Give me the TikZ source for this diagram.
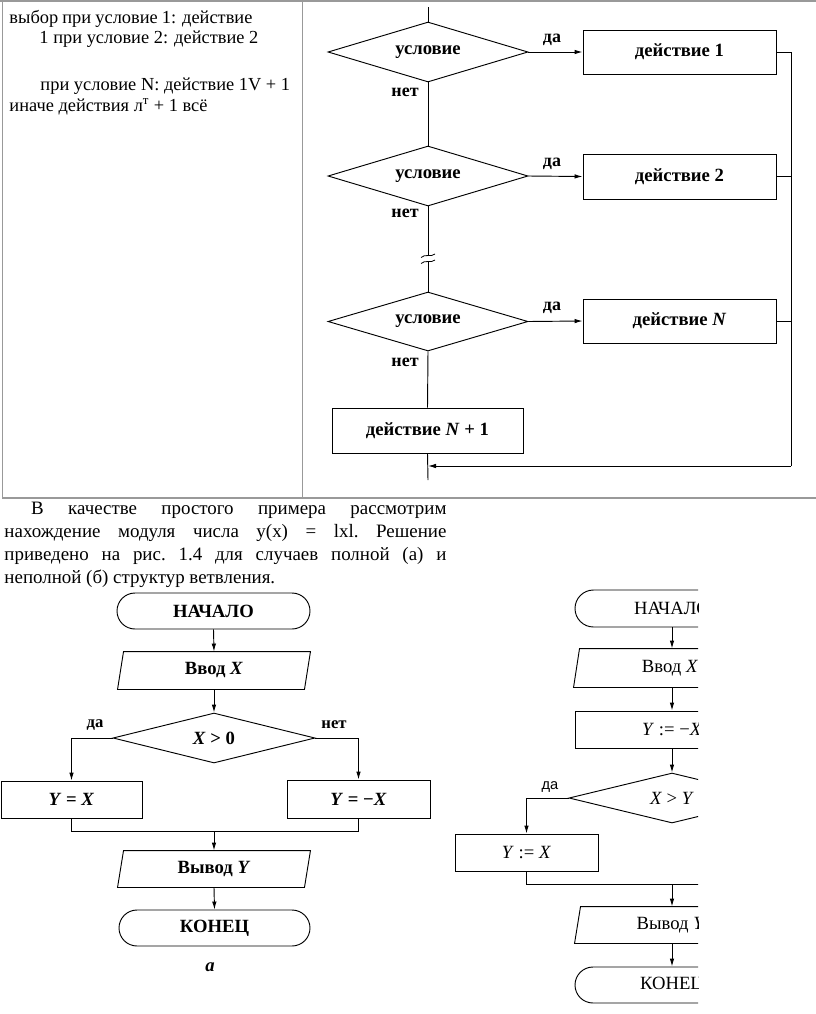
\documentclass[tikz,border=0pt]{standalone}
\usepackage{fontspec}
\setmainfont{Liberation Serif}
\newfontfamily\sansfnt{Liberation Sans}
\usetikzlibrary{shapes.geometric,shapes.misc,arrows.meta}
\begin{document}
\begin{tikzpicture}[x=0.75pt,y=-0.75pt,
  line width=0.7pt,
  >={Latex[length=6pt,width=3.4pt]},
  dia/.style={diamond,draw,inner sep=0pt,shape aspect=3.3},
  box/.style={rectangle,draw,inner sep=0pt},
  term/.style={rounded rectangle,draw,inner sep=0pt},
  io/.style={rectangle,inner sep=0pt},
  lbl/.style={font=\bfseries\fontsize{14}{16}\selectfont},
  lblb/.style={font=\fontsize{14}{16}\selectfont},
  yn/.style={font=\bfseries\fontsize{13.5}{15}\selectfont,inner sep=0pt},
  yna/.style={font=\bfseries\fontsize{12.5}{14}\selectfont,inner sep=0pt},
  ynb/.style={font=\sansfnt\fontsize{11}{13}\selectfont,inner sep=0pt},
  txt/.style={inner sep=0pt,anchor=base west,font=\fontsize{13.8}{16}\selectfont},
  tbl/.style={draw=black!40,line width=0.9pt}]
\useasboundingbox (0,0) rectangle (816,1014);
\fill[white] (0,0) rectangle (816,1014);

% ---------- table frame ----------
\draw[tbl] (0,1) -- (816,1);
\draw[tbl] (2.5,1) -- (2.5,498) -- (816,498);
\draw[tbl] (302.5,1) -- (302.5,498);

% ---------- left cell text ----------
\node[txt] (t1) at (9,23) {\makebox[182.25pt][s]{выбор при условие 1: действие}};
\node[txt] (t2) at (39,43) {1 при условие 2: действие 2};
\node[txt] (t3) at (40,90) {при условие N: действие 1V + 1};
\node[txt] (t4) at (9,111) {иначе действия л\textsuperscript{т} + 1 всё};

% ---------- top diagram ----------
\coordinate (top) at (428,7);
\node[dia,lbl,minimum width=150pt,minimum height=45pt] (d1) at (428,52) {условие};
\node[box,lbl,minimum width=144.75pt,minimum height=33pt] (a1) at (679.5,52) {действие 1};
\node[dia,lbl,minimum width=150pt,minimum height=45pt] (d2) at (428,176) {условие};
\node[box,lbl,minimum width=144.75pt,minimum height=33.75pt] (a2) at (679.5,176.5) {действие 2};
\coordinate (b1) at (428,256);
\coordinate (b2) at (428,262);
\node[dia,lbl,minimum width=150pt,minimum height=44.25pt] (d3) at (428,321.5) {условие};
\node[box,lbl,minimum width=144.75pt,minimum height=33pt] (aN) at (679.5,321) {действие \textit{N}};
\node[box,lbl,minimum width=143.25pt,minimum height=33.75pt] (aN1) at (427.5,430.5) {действие \textit{N} + 1};
\coordinate (rt) at (791,466);
\coordinate (jn) at (428,466);
\coordinate (bot) at (428,480);

\draw (top) -- (d1.north);
\draw (d1.south) -- (d2.north);
\draw (d2.south) -- (b1);
\draw (b2) -- (d3.north);
\draw (d3.south) -- (aN1.north);
\draw (aN1.south) -- (bot);
\draw[->] (d1.east) -- (a1.west);
\draw[->] (d2.east) -- (a2.west);
\draw[->] (d3.east) -- (aN.west);
\draw (a1.east) -| (rt);
\draw (a2.east) -- (a2.east -| rt);
\draw (aN.east) -- (aN.east -| rt);
\draw[->] (rt) -- (jn);
% break mark
\draw[line width=0.6pt] (421,257.5) .. controls (425,253.5) and (431,257.5) .. (435,254);
\draw[line width=0.6pt] (421,263.5) .. controls (425,259.5) and (431,263.5) .. (435,260);

\node[yn] (y1) at (552,40) {да};
\node[yn] (n1) at (405,92) {нет};
\node[yn] (y2) at (552,164) {да};
\node[yn] (n2) at (405,213) {нет};
\node[yn] (y3) at (552,308) {да};
\node[yn] (n3) at (405,362) {нет};

% ---------- paragraph ----------
\node[anchor=north west,inner sep=0pt,text width=331.5pt,align=justify,
      font=\fontsize{14.2}{17.25}\selectfont\frenchspacing] (par) at (4,502)
 {\hspace*{20pt}В качестве простого примера рассмотрим\linebreak
  нахождение модуля числа у(х) = lxl. Решение\linebreak
  приведено на рис. 1.4 для случаев полной (а) и\linebreak
  неполной (б) структур ветвления.};

% ---------- flowchart a ----------
\node[term,lbl,minimum width=144.75pt,minimum height=27pt] (s) at (213.5,611) {НАЧАЛО};
\node[io,lbl,minimum width=144pt,minimum height=27.75pt] (in) at (214,670.5) {Ввод \textit{X}};
\draw ([xshift=4.5pt]in.north west) -- (in.north east) -- ([xshift=-4.5pt]in.south east) -- (in.south west) -- cycle;
\node[dia,lbl,minimum width=151.5pt,minimum height=37.5pt,shape aspect=4] (c) at (214,738) {\textit{X} > 0};
\node[box,lbl,minimum width=105.75pt,minimum height=27.75pt] (yx) at (71.5,799.5) {\textit{Y} = \textit{X}};
\node[box,lbl,minimum width=107.25pt,minimum height=28.5pt] (ynx) at (358.5,799) {\textit{Y} = −\textit{X}};
\coordinate (m) at (214,831);
\node[io,lbl,minimum width=144pt,minimum height=27pt] (out) at (214,869) {Вывод \textit{Y}};
\draw ([xshift=4.5pt]out.north west) -- (out.north east) -- ([xshift=-4.5pt]out.south east) -- (out.south west) -- cycle;
\node[term,lbl,minimum width=143.25pt,minimum height=27pt] (e) at (214.5,928) {КОНЕЦ};
\node[font=\bfseries\itshape\fontsize{14}{16}\selectfont,inner sep=0pt] (cap) at (210,967) {а};

\draw[->] (s.south) -- (in.north);
\draw[->] (in.south) -- (c.north);
\draw[->] (c.west) -| (yx.north);
\draw[->] (c.east) -| (ynx.north);
\draw (yx.south) |- (m) -| (ynx.south);
\draw[->] (m) -- (out.north);
\draw[->] (out.south) -- (e.north);
\node[yna] (ya) at (95,725) {да};
\node[yna] (na) at (334,725) {нет};

% ---------- flowchart b (cropped) ----------
\begin{scope}
\clip (440,580) rectangle (698,1014);
\node[term,lblb,minimum width=145.5pt,minimum height=27.75pt] (s2) at (672,608.5) {НАЧАЛО};
\node[io,lblb,minimum width=144pt,minimum height=28.5pt] (in2) at (670,668) {Ввод \textit{X}};
\draw ([xshift=4.5pt]in2.north west) -- (in2.north east) -- ([xshift=-4.5pt]in2.south east) -- (in2.south west) -- cycle;
\node[box,lblb,minimum width=145.5pt,minimum height=27.75pt] (as2) at (672,729.5) {\textit{Y} := −\textit{X}};
\node[dia,lblb,minimum width=154.5pt,minimum height=37.5pt,shape aspect=4] (c2) at (672,798) {\textit{X} > \textit{Y}};
\node[box,lblb,minimum width=107.25pt,minimum height=27.75pt] (yx2) at (526.5,852.5) {\textit{Y} := \textit{X}};
\coordinate (m2) at (672,884);
\coordinate (m2r) at (800,884);
\node[io,lblb,minimum width=144pt,minimum height=27pt] (out2) at (671,925) {Вывод \textit{Y}};
\draw ([xshift=4.5pt]out2.north west) -- (out2.north east) -- ([xshift=-4.5pt]out2.south east) -- (out2.south west) -- cycle;
\node[term,lblb,minimum width=145.5pt,minimum height=27pt] (e2) at (672,985) {КОНЕЦ};

\draw[->] (s2.south) -- (in2.north -| s2.south);
\draw[->] (in2.south -| s2.south) -- (as2.north);
\draw[->] (as2.south) -- (c2.north);
\draw[->] (c2.west) -| (yx2.north);
\draw (yx2.south) |- (m2r);
\draw (c2.east) -| (m2r);
\draw[->] (m2) -- (out2.north -| m2);
\draw[->] (out2.south -| m2) -- (e2.north);
\node[ynb] (yb) at (550,787) {да};
\end{scope}
\end{tikzpicture}
\end{document}
